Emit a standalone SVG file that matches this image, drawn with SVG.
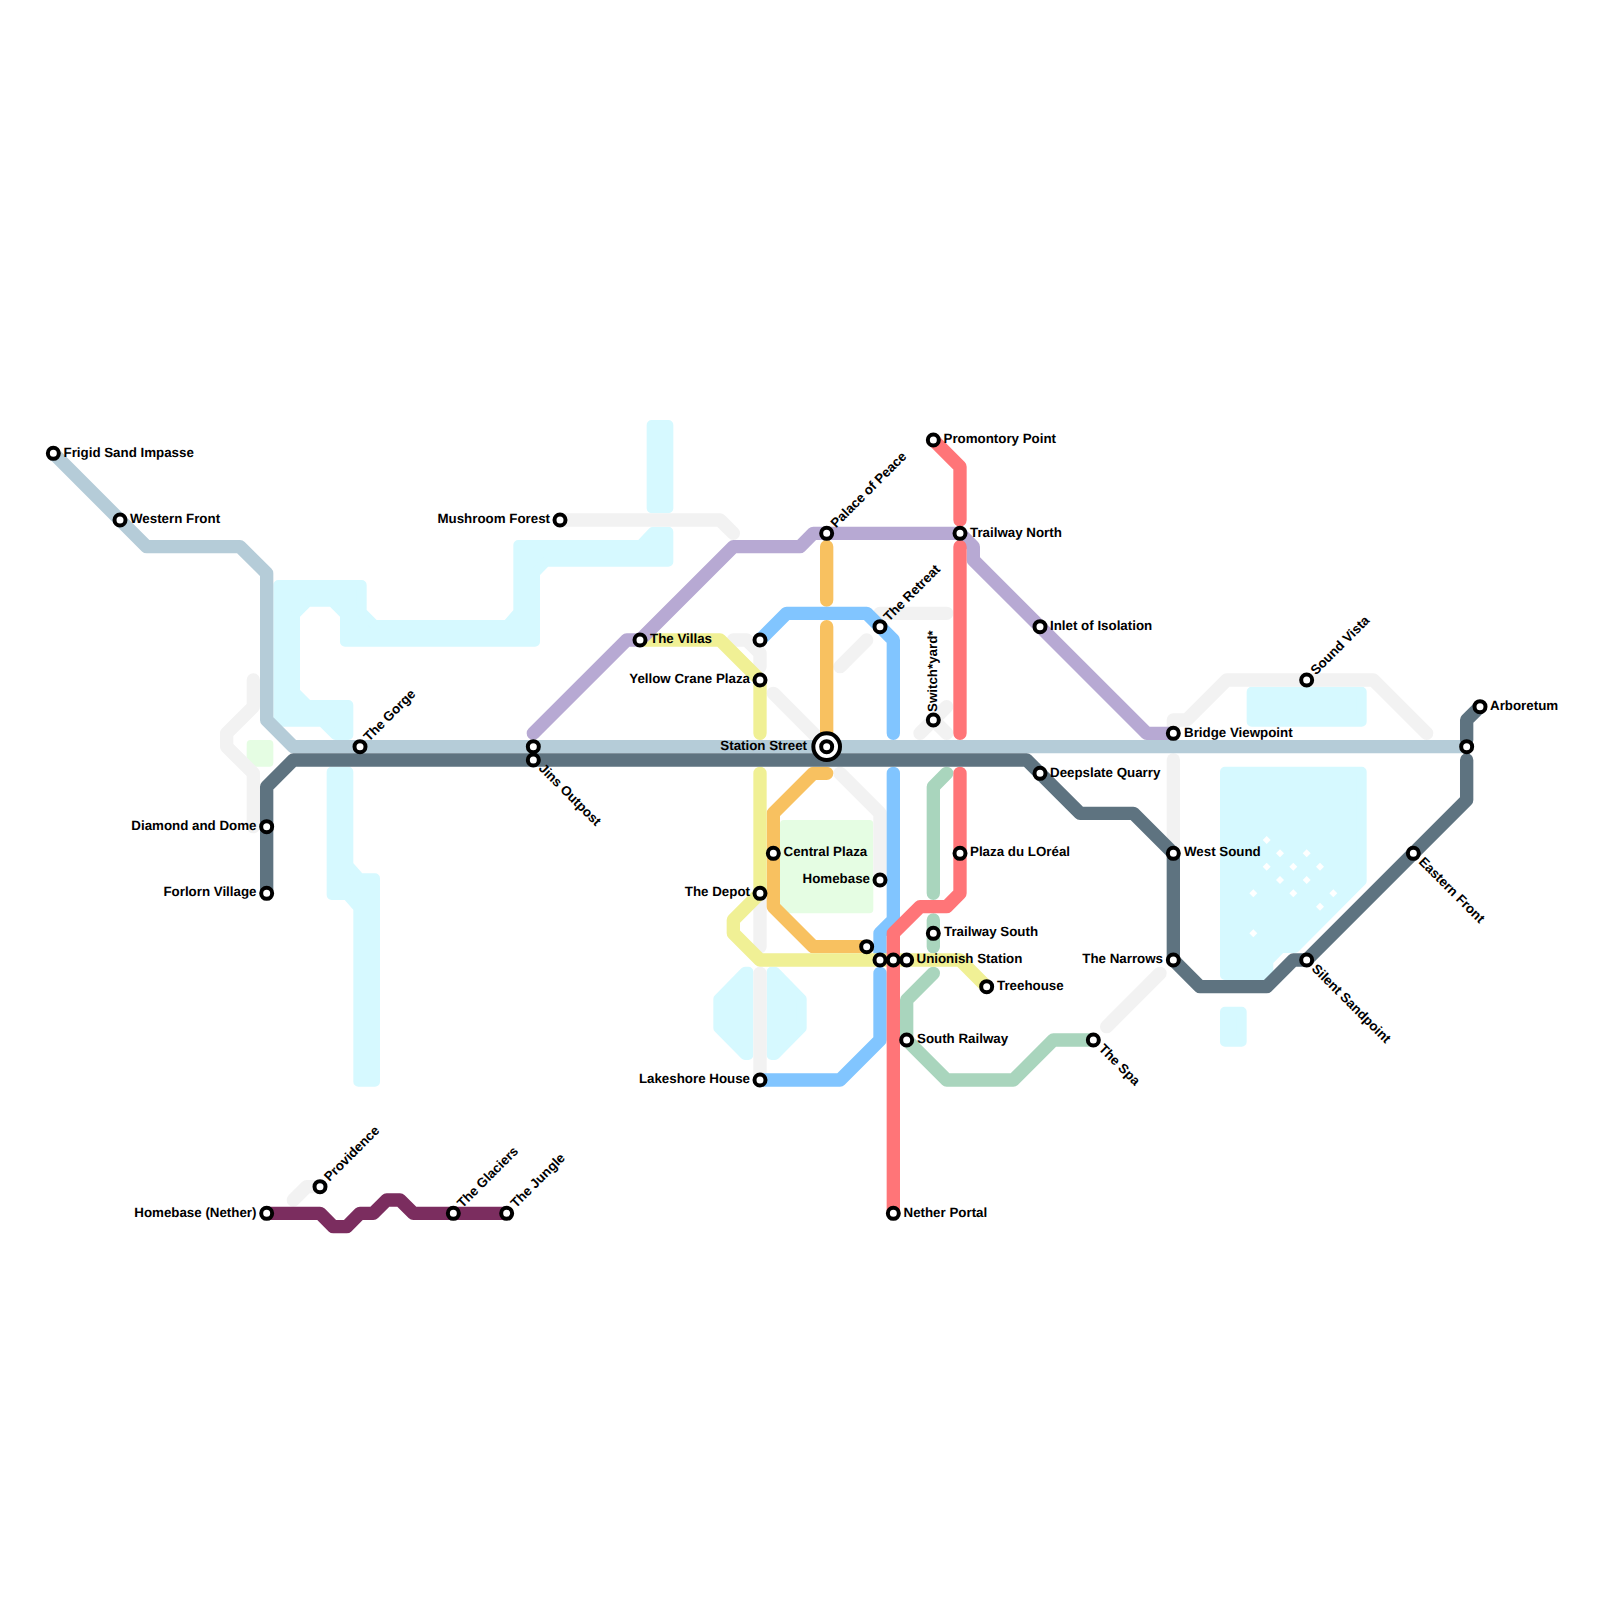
<svg xmlns="http://www.w3.org/2000/svg" width="1600" height="1600" viewBox="0 0 1600 1600">
<style>
.l{fill:none;stroke-width:1;stroke-linecap:round;stroke-linejoin:round}
.gy{stroke:#f2f2f2}.lb{stroke:#b5ccd8}.dk{stroke:#5e7380}.pu{stroke:#b7a9d3}.ye{stroke:#f0f095}.or{stroke:#f8c160}.bl{stroke:#81c5ff}.re{stroke:#ff7578}.gr{stroke:#a9d5bd}.pl{stroke:#7b2d5f}
.w{fill:#d6f9ff;stroke:#d6f9ff;stroke-width:10;stroke-linejoin:round}
.p{fill:#e5fde3;stroke:#e5fde3;stroke-width:8;stroke-linejoin:round}
.s{fill:#fff;stroke:#000;stroke-width:4}
text{font-family:"Liberation Sans",Arial,sans-serif;font-size:13.33px;font-weight:bold;fill:#000;text-rendering:geometricPrecision}
.e{text-anchor:end}
</style>
<defs><polygon id="d" points="0,-4 4,0 0,4 -4,0" fill="#fff"/></defs>
<g id="water">
<polygon class="w" points="278.33,585 361.67,585 361.67,612 374.6,625 507,625 518.33,612 518.33,545 640.5,545 653,531.67 668.33,531.67 668.33,561.67 546,561.67 535,573 535,641.67 345,641.67 345,614.6 332,601.67 308,601.67 295,614.6 295,692 308,705 348.33,705 348.33,735 335.4,735 322,721.67 278.33,721.67"/>
<rect class="w" x="651.67" y="425" width="16.67" height="83.33"/>
<polygon class="w" points="331.67,771.67 348.33,771.67 348.33,865 360,878.33 375,878.33 375,1081.67 358.33,1081.67 358.33,908 347,895 331.67,895"/>
<polygon class="w" points="745,971.67 748.33,971.67 748.33,1055 745,1055 718.33,1028 718.33,999"/>
<polygon class="w" points="771.67,971.67 775,971.67 801.67,999 801.67,1028 775,1055 771.67,1055"/>
<rect class="w" x="1251.67" y="691.67" width="110" height="30"/>
<polygon class="w" points="1225,771.67 1361.67,771.67 1361.67,881 1295,948 1281,948 1268.3,961 1268.3,975 1225,975"/>
<rect class="w" x="1225" y="1011.67" width="16.67" height="30"/>
<use href="#d" x="1266.67" y="840"/><use href="#d" x="1280" y="853.33"/><use href="#d" x="1306.67" y="853.33"/><use href="#d" x="1266.67" y="866.67"/><use href="#d" x="1293.33" y="866.67"/><use href="#d" x="1320" y="866.67"/><use href="#d" x="1280" y="880"/><use href="#d" x="1306.67" y="880"/><use href="#d" x="1253.33" y="893.33"/><use href="#d" x="1293.33" y="893.33"/><use href="#d" x="1333.33" y="893.33"/><use href="#d" x="1320" y="906.67"/><use href="#d" x="1253.33" y="933.33"/>
</g>
<g id="parks">
<rect class="p" x="250.67" y="744" width="18.67" height="18.67"/>
<rect class="p" x="784" y="824" width="85.33" height="85.33"/>
</g>
<g id="connectors" transform="scale(13.33333)">
<path class="l gy" d="M42 39H54L55 40"/>
<path class="l gy" d="M19 51V53L17 55V56L19 58V62"/>
<path class="l gy" d="M55 48H56L57 49V50"/>
<path class="l gy" d="M58 52L62 56"/>
<path class="l gy" d="M63 58L66 61V66"/>
<path class="l gy" d="M63 50L65 48"/>
<path class="l gy" d="M66 46H71"/>
<path class="l gy" d="M69 55L71 53M70 54L71 55"/>
<path class="l gy" d="M83 77L87 73"/>
<path class="l gy" d="M88 55V54H89L92 51H103L107 55"/>
<path class="l gy" d="M88 57V64"/>
<path class="l gy" d="M57 67V71M57 73V81"/>
<path class="l gy" d="M22 90L23 89H24"/>
<path class="l pl" d="M20 91H24L25 92H26L27 91H28L29 90H30L31 91H38"/>
<path class="l gr" d="M71 58L70 59V67M70 69V71M70 73L68 75V78L71 81H76L79 78H82"/>
<path class="l or" d="M62 41V45M62 47V55M62 58H61L58 61V68L61 71H65"/>
<path class="l bl" d="M57 48L59 46H65L67 48V55M67 58V69L66 70V72M66 73V78L63 81H57"/>
<path class="l ye" d="M48 48H54L57 51V55M57 58V67L55 69V70L57 72H72L74 74"/>
<path class="l pu" d="M40 55L47 48H48L55 41H60L61 40H72L73 41V42L86 55H88"/>
<path class="l re" d="M70 33L72 35V39M72 41V55M72 58V67L71 68H69L67 70V91"/>
<path class="l lb" d="M4 34L11 41H18L20 43V54L22 56H110"/>
<path class="l dk" d="M20 67V59L22 57H77L81 61H85L88 64V72L90 74H95L97 72H98L110 60V57M111 53L110 54V55.5"/>
</g>
<g id="stations">
<g id="n-frigid"><circle class="s" cx="53.33" cy="453.33" r="5.5"/><text x="63.5" y="456.5">Frigid Sand Impasse</text></g>
<g id="n-western"><circle class="s" cx="120" cy="520" r="5.5"/><text x="130" y="523">Western Front</text></g>
<g id="n-gorge"><circle class="s" cx="360" cy="746.67" r="5.5"/><text transform="translate(369,742) rotate(-45)">The Gorge</text></g>
<g id="n-jins0"><circle class="s" cx="533.33" cy="746.67" r="5.5"/></g>
<g id="n-jins"><circle class="s" cx="533.33" cy="760" r="5.5"/><text transform="translate(538,769) rotate(45)">Jins Outpost</text></g>
<g id="n-mushroom"><circle class="s" cx="560" cy="520" r="5.5"/><text class="e" x="550" y="523">Mushroom Forest</text></g>
<g id="n-villas"><circle class="s" cx="640" cy="640" r="5.5"/><text x="650" y="643">The Villas</text></g>
<g id="n-x1"><circle class="s" cx="760" cy="640" r="5.5"/></g>
<g id="n-yellowcrane"><circle class="s" cx="760" cy="680" r="5.5"/><text class="e" x="750" y="683">Yellow Crane Plaza</text></g>
<g id="n-palace"><circle class="s" cx="826.67" cy="533.33" r="5.5"/><text transform="translate(836,528.5) rotate(-45)">Palace of Peace</text></g>
<g id="n-trailwayn"><circle class="s" cx="960" cy="533.33" r="5.5"/><text x="970" y="536.5">Trailway North</text></g>
<g id="n-promontory"><circle class="s" cx="933.33" cy="440" r="5.5"/><text x="943.5" y="443">Promontory Point</text></g>
<g id="n-retreat"><circle class="s" cx="880" cy="626.67" r="5.5"/><text transform="translate(889,622) rotate(-45)">The Retreat</text></g>
<g id="n-switchyard"><circle class="s" cx="933.33" cy="720" r="5.5"/><text transform="translate(936.5,712) rotate(-90)">Switch*yard*</text></g>
<g id="n-station"><circle class="s" cx="826.67" cy="746.67" r="13.33"/><circle class="s" cx="826.67" cy="746.67" r="5.5"/><text class="e" x="807" y="749.5">Station Street</text></g>
<g id="n-bridge"><circle class="s" cx="1173.33" cy="733.33" r="5.5"/><text x="1184" y="736.5">Bridge Viewpoint</text></g>
<g id="n-deepslate"><circle class="s" cx="1040" cy="773.33" r="5.5"/><text x="1050" y="776.5">Deepslate Quarry</text></g>
<g id="n-inlet"><circle class="s" cx="1040" cy="626.67" r="5.5"/><text x="1050" y="629.5">Inlet of Isolation</text></g>
<g id="n-sound"><circle class="s" cx="1306.67" cy="680" r="5.5"/><text transform="translate(1316,675.5) rotate(-45)">Sound Vista</text></g>
<g id="n-arboretum"><circle class="s" cx="1480" cy="706.67" r="5.5"/><text x="1490" y="709.5">Arboretum</text></g>
<g id="n-x2"><circle class="s" cx="1466.67" cy="746.67" r="5.5"/></g>
<g id="n-eastern"><circle class="s" cx="1413.33" cy="853.33" r="5.5"/><text transform="translate(1418,862.5) rotate(45)">Eastern Front</text></g>
<g id="n-westsound"><circle class="s" cx="1173.33" cy="853.33" r="5.5"/><text x="1184" y="856">West Sound</text></g>
<g id="n-narrows"><circle class="s" cx="1173.33" cy="960" r="5.5"/><text class="e" x="1163" y="963">The Narrows</text></g>
<g id="n-silent"><circle class="s" cx="1306.67" cy="960" r="5.5"/><text transform="translate(1311,969.5) rotate(45)">Silent Sandpoint</text></g>
<g id="n-central"><circle class="s" cx="773.33" cy="853.33" r="5.5"/><text x="783.5" y="856">Central Plaza</text></g>
<g id="n-homebase"><circle class="s" cx="880" cy="880" r="5.5"/><text class="e" x="870" y="883">Homebase</text></g>
<g id="n-depot"><circle class="s" cx="760" cy="893.33" r="5.5"/><text class="e" x="750" y="896">The Depot</text></g>
<g id="n-plaza"><circle class="s" cx="960" cy="853.33" r="5.5"/><text x="970" y="856">Plaza du LOréal</text></g>
<g id="n-x3"><circle class="s" cx="866.67" cy="946.67" r="5.5"/></g>
<g id="n-x4"><circle class="s" cx="880" cy="960" r="5.5"/></g>
<g id="n-x5"><circle class="s" cx="893.33" cy="960" r="5.5"/></g>
<g id="n-unionish"><circle class="s" cx="906.67" cy="960" r="5.5"/><text x="916.5" y="963">Unionish Station</text></g>
<g id="n-trailways"><circle class="s" cx="933.33" cy="933.33" r="5.5"/><text x="944" y="936">Trailway South</text></g>
<g id="n-treehouse"><circle class="s" cx="986.67" cy="986.67" r="5.5"/><text x="997" y="989.5">Treehouse</text></g>
<g id="n-southrail"><circle class="s" cx="906.67" cy="1040" r="5.5"/><text x="917" y="1043">South Railway</text></g>
<g id="n-spa"><circle class="s" cx="1093.33" cy="1040" r="5.5"/><text transform="translate(1098,1049.5) rotate(45)">The Spa</text></g>
<g id="n-lakeshore"><circle class="s" cx="760" cy="1080" r="5.5"/><text class="e" x="750" y="1083">Lakeshore House</text></g>
<g id="n-nether"><circle class="s" cx="893.33" cy="1213.33" r="5.5"/><text x="903.5" y="1216.5">Nether Portal</text></g>
<g id="n-homenether"><circle class="s" cx="266.67" cy="1213.33" r="5.5"/><text class="e" x="256.5" y="1216.5">Homebase (Nether)</text></g>
<g id="n-providence"><circle class="s" cx="320" cy="1186.67" r="5.5"/><text transform="translate(329.5,1182) rotate(-45)">Providence</text></g>
<g id="n-glaciers"><circle class="s" cx="453.33" cy="1213.33" r="5.5"/><text transform="translate(462.5,1208.5) rotate(-45)">The Glaciers</text></g>
<g id="n-jungle"><circle class="s" cx="506.67" cy="1213.33" r="5.5"/><text transform="translate(516,1208.5) rotate(-45)">The Jungle</text></g>
<g id="n-diamond"><circle class="s" cx="266.67" cy="826.67" r="5.5"/><text class="e" x="256.5" y="829.5">Diamond and Dome</text></g>
<g id="n-forlorn"><circle class="s" cx="266.67" cy="893.33" r="5.5"/><text class="e" x="256.5" y="896">Forlorn Village</text></g>
</g>
</svg>
